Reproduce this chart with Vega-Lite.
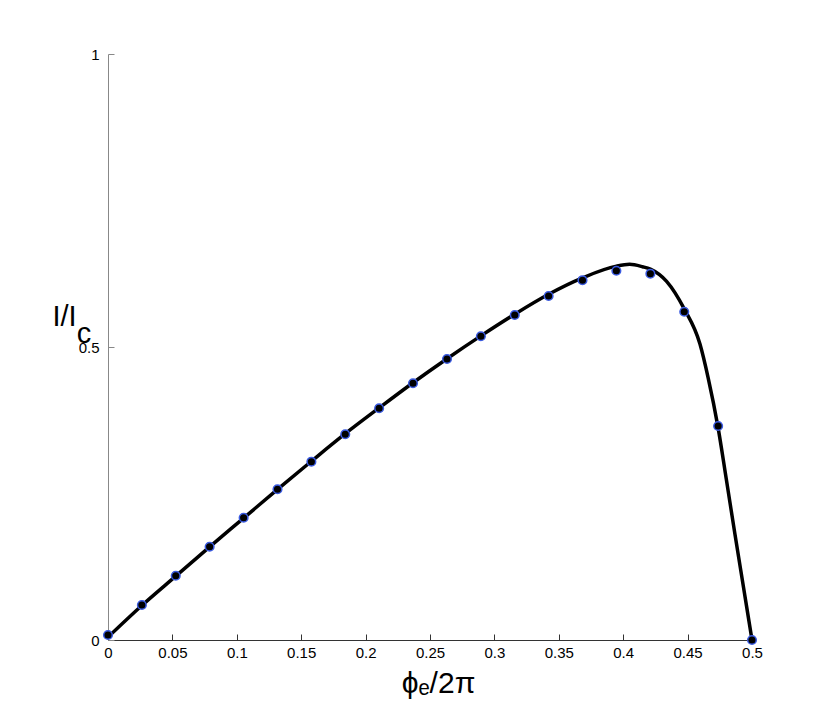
{
  "$schema": "https://vega.github.io/schema/vega-lite/v6.json",
  "autosize": "none",
  "width": 644,
  "height": 586,
  "padding": {"left": 108, "top": 54, "right": 78, "bottom": 80},
  "background": "white",
  "config": {
    "view": {"stroke": null},
    "font": "Liberation Sans",
    "axis": {"grid": false, "labelFont": "Liberation Sans", "titleFont": "Liberation Sans", "labelColor": "#000", "titleColor": "#000", "titleFontWeight": "normal"}
  },
  "datasets": {
    "curve": [
      {"x": 0, "y": 0.005},
      {"x": 0.0263, "y": 0.059},
      {"x": 0.0526, "y": 0.109},
      {"x": 0.0789, "y": 0.159},
      {"x": 0.1053, "y": 0.208},
      {"x": 0.1316, "y": 0.257},
      {"x": 0.1579, "y": 0.305},
      {"x": 0.1842, "y": 0.352},
      {"x": 0.2105, "y": 0.396},
      {"x": 0.2368, "y": 0.439},
      {"x": 0.2632, "y": 0.48},
      {"x": 0.2895, "y": 0.519},
      {"x": 0.3158, "y": 0.556},
      {"x": 0.3421, "y": 0.59},
      {"x": 0.3684, "y": 0.618},
      {"x": 0.3947, "y": 0.638},
      {"x": 0.405, "y": 0.641},
      {"x": 0.415, "y": 0.637},
      {"x": 0.4211, "y": 0.633},
      {"x": 0.4337, "y": 0.612},
      {"x": 0.4474, "y": 0.565},
      {"x": 0.4596, "y": 0.505},
      {"x": 0.466, "y": 0.447},
      {"x": 0.4737, "y": 0.362},
      {"x": 0.48, "y": 0.275},
      {"x": 0.4868, "y": 0.18},
      {"x": 0.4934, "y": 0.09},
      {"x": 0.5, "y": 0}
    ],
    "pts": [
      {"x": 0, "y": 0.0085},
      {"x": 0.0263, "y": 0.0597},
      {"x": 0.0526, "y": 0.1097},
      {"x": 0.0789, "y": 0.1592},
      {"x": 0.1053, "y": 0.2087},
      {"x": 0.1316, "y": 0.2572},
      {"x": 0.1579, "y": 0.3043},
      {"x": 0.1842, "y": 0.3512},
      {"x": 0.2105, "y": 0.3954},
      {"x": 0.2368, "y": 0.4381},
      {"x": 0.2632, "y": 0.4795},
      {"x": 0.2895, "y": 0.5183},
      {"x": 0.3158, "y": 0.5546},
      {"x": 0.3421, "y": 0.587},
      {"x": 0.3684, "y": 0.614},
      {"x": 0.3947, "y": 0.6302},
      {"x": 0.4211, "y": 0.6251},
      {"x": 0.4474, "y": 0.5602},
      {"x": 0.4737, "y": 0.3652},
      {"x": 0.5, "y": 0}
    ]
  },
  "encoding": {
    "x": {
      "field": "x", "type": "quantitative",
      "scale": {"domain": [0, 0.5], "nice": false, "zero": false},
      "axis": {
        "title": "ϕₑ/2π",
        "values": [0, 0.05, 0.1, 0.15, 0.2, 0.25, 0.3, 0.35, 0.4, 0.45, 0.5],
        "format": "~g",
        "labelFontSize": 15,
        "labelPadding": 11,
        "labelFlush": false,
        "labelOverlap": false,
        "tickSize": -6,
        "tickColor": "#333",
        "domainColor": "#333",
        "domainWidth": 1,
        "titleFontSize": 30,
        "titleAnchor": "start",
        "titleAlign": "center",
        "titleBaseline": "alphabetic",
        "titleX": 330,
        "titleY": 52
      }
    },
    "y": {
      "field": "y", "type": "quantitative",
      "scale": {"domain": [0, 1], "nice": false},
      "axis": {
        "title": ["I/I", "\u200b\u00a0\u00a0\u00a0c"],
        "values": [0, 0.5, 1],
        "format": "~g",
        "labelFontSize": 15,
        "labelPadding": 15,
        "labelFlush": false,
        "labelOverlap": false,
        "tickSize": -6,
        "tickColor": "#888",
        "domainColor": "#888",
        "domainWidth": 1,
        "titleFontSize": 29,
        "titleLineHeight": 17,
        "titleAngle": 0,
        "titleAlign": "left",
        "titleBaseline": "alphabetic",
        "titleAnchor": "start",
        "titleX": -56,
        "titleY": 271
      }
    }
  },
  "layer": [
    {
      "data": {"name": "curve"},
      "mark": {"type": "line", "color": "black", "strokeWidth": 3.5, "interpolate": "monotone"}
    },
    {
      "data": {"name": "pts"},
      "mark": {"type": "point", "shape": "circle", "filled": false, "fill": "black", "fillOpacity": 1, "stroke": "#3a5ae0", "strokeWidth": 1.5, "opacity": 1, "size": 74}
    }
  ]
}
